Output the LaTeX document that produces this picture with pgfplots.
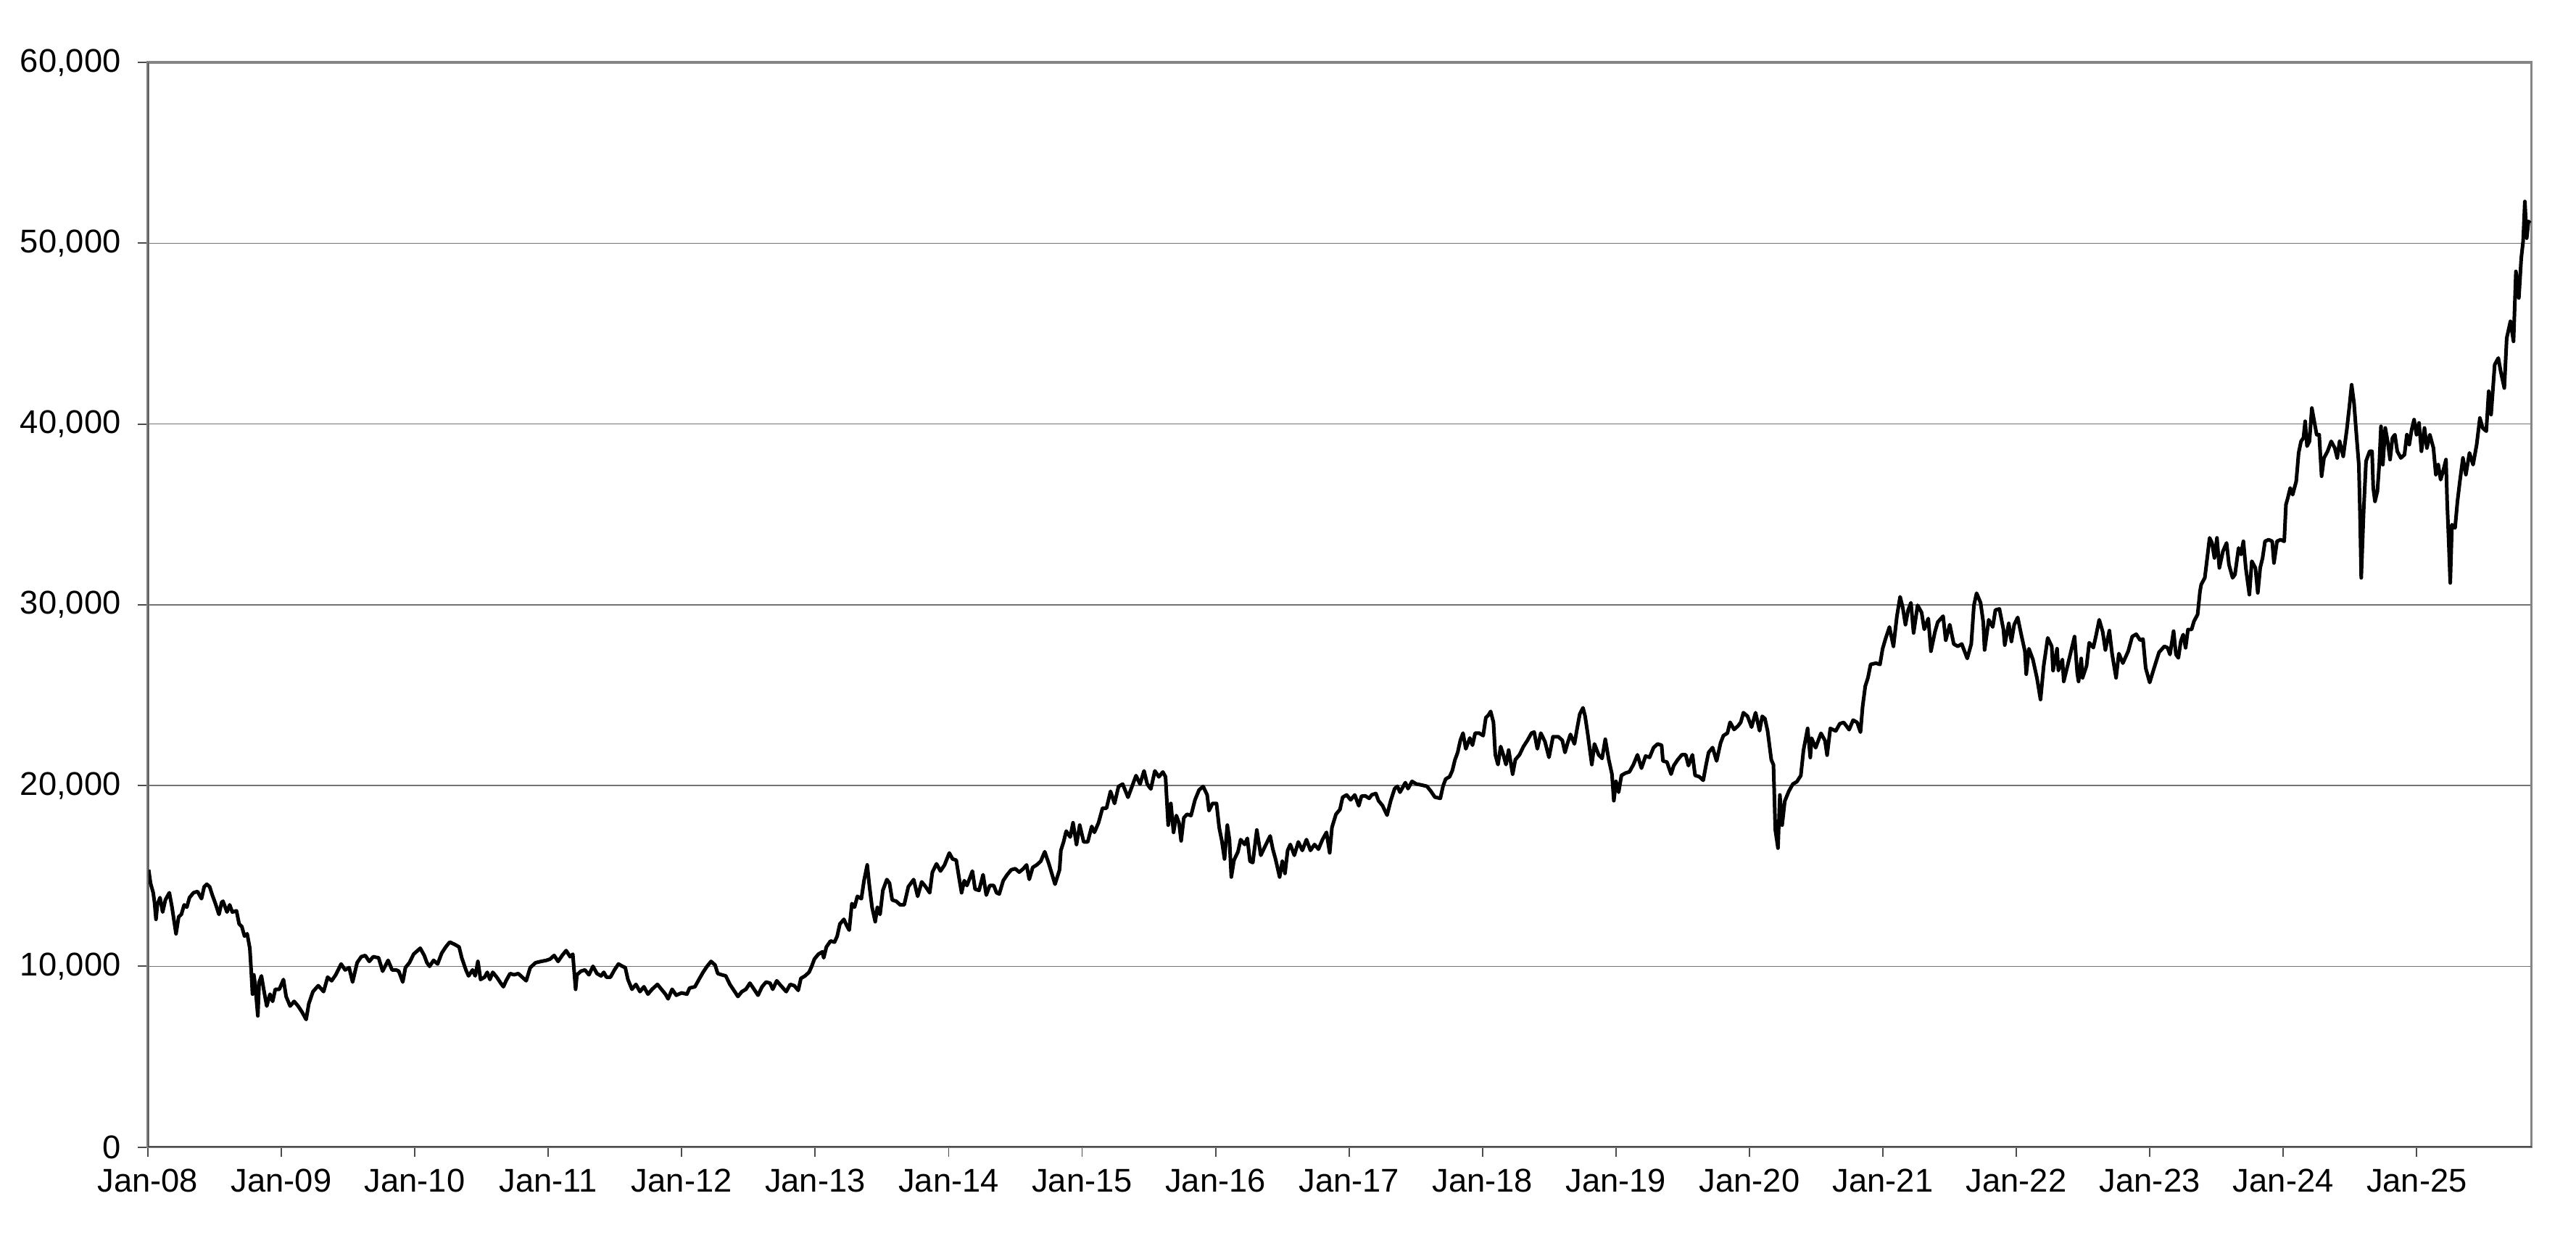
\documentclass[border=0pt]{standalone}
\usepackage{fontspec}
\setmainfont{Liberation Sans}
\usepackage{pgfplots}
\usepackage{pgfplotstable}
\pgfplotsset{compat=1.18}
\pgfplotstableread{
t v
0.006 15340
0.020 14600
0.040 14070
0.050 13540
0.061 12600
0.071 13400
0.091 13800
0.111 13000
0.131 13670
0.161 14070
0.181 13270
0.211 11800
0.231 12740
0.251 12870
0.272 13400
0.292 13270
0.312 13800
0.342 14070
0.372 14140
0.402 13740
0.422 14400
0.442 14540
0.463 14400
0.483 13940
0.503 13540
0.533 12870
0.553 13540
0.563 13600
0.593 13000
0.613 13400
0.633 13000
0.664 13070
0.684 12340
0.704 12200
0.724 11670
0.744 11800
0.764 11000
0.774 9800
0.784 8460
0.794 9530
0.804 9000
0.824 7260
0.834 9130
0.851 9470
0.871 8600
0.891 7800
0.915 8460
0.935 8060
0.955 8730
0.985 8730
1.016 9270
1.036 8330
1.066 7800
1.096 8060
1.126 7800
1.156 7460
1.186 7060
1.206 7930
1.237 8600
1.277 8930
1.317 8600
1.347 9400
1.377 9200
1.408 9530
1.448 10130
1.478 9800
1.508 9930
1.534 9130
1.568 10200
1.599 10530
1.629 10600
1.659 10270
1.689 10530
1.729 10470
1.759 9730
1.800 10330
1.830 9800
1.860 9800
1.880 9730
1.910 9130
1.930 9930
1.960 10200
1.991 10670
2.021 10870
2.041 11000
2.071 10600
2.091 10200
2.111 10000
2.141 10330
2.171 10130
2.202 10730
2.232 11070
2.262 11340
2.302 11200
2.332 11070
2.352 10470
2.383 9800
2.403 9470
2.433 9800
2.453 9470
2.473 10270
2.493 9270
2.523 9400
2.543 9670
2.563 9270
2.584 9670
2.614 9400
2.644 9070
2.664 8870
2.684 9200
2.714 9600
2.744 9530
2.775 9600
2.805 9400
2.835 9200
2.865 9930
2.905 10200
2.946 10270
2.986 10330
3.014 10400
3.044 10600
3.074 10270
3.104 10600
3.134 10870
3.164 10530
3.184 10670
3.205 8730
3.215 9530
3.245 9730
3.275 9800
3.305 9530
3.335 10000
3.365 9600
3.396 9470
3.416 9670
3.436 9400
3.466 9400
3.496 9800
3.526 10130
3.556 10000
3.577 9930
3.597 9270
3.627 8730
3.657 9000
3.687 8600
3.717 8870
3.747 8460
3.778 8730
3.818 9000
3.848 8730
3.878 8460
3.898 8200
3.928 8730
3.959 8400
3.999 8530
4.039 8460
4.059 8800
4.099 8870
4.129 9270
4.160 9670
4.190 10000
4.220 10270
4.250 10070
4.270 9600
4.300 9530
4.330 9470
4.361 9000
4.391 8670
4.421 8330
4.451 8600
4.481 8730
4.511 9070
4.542 8730
4.572 8400
4.602 8870
4.632 9130
4.662 9070
4.682 8730
4.712 9200
4.743 8930
4.783 8600
4.813 9000
4.843 8930
4.873 8670
4.893 9330
4.924 9470
4.954 9670
4.974 10000
4.994 10400
5.024 10670
5.054 10800
5.064 10470
5.084 11070
5.115 11400
5.145 11340
5.165 11670
5.185 12340
5.215 12600
5.235 12270
5.255 12000
5.275 13470
5.295 13270
5.316 13870
5.346 13740
5.366 14740
5.390 15610
5.406 14470
5.426 13270
5.450 12470
5.466 13270
5.486 12870
5.507 14200
5.537 14800
5.557 14600
5.577 13670
5.607 13600
5.637 13400
5.667 13400
5.698 14400
5.738 14800
5.768 13870
5.798 14670
5.828 14400
5.858 14070
5.878 15200
5.909 15670
5.939 15270
5.969 15600
6.005 16270
6.029 15940
6.057 15870
6.077 14940
6.097 14070
6.117 14740
6.137 14470
6.158 14870
6.178 15270
6.198 14270
6.228 14200
6.258 15070
6.282 13940
6.308 14470
6.338 14470
6.359 14070
6.379 14000
6.409 14740
6.439 15070
6.469 15340
6.499 15400
6.529 15210
6.560 15400
6.584 15610
6.604 14810
6.630 15470
6.660 15610
6.690 15810
6.720 16340
6.751 15670
6.797 14540
6.831 15340
6.841 16410
6.861 16880
6.881 17480
6.911 17150
6.932 17940
6.958 16740
6.982 17810
7.012 16880
7.042 16880
7.072 17740
7.092 17410
7.123 17940
7.153 18750
7.183 18750
7.213 19680
7.243 19010
7.273 19950
7.304 20080
7.344 19350
7.374 19950
7.404 20550
7.434 20080
7.464 20810
7.488 20080
7.515 19810
7.545 20810
7.575 20480
7.605 20750
7.625 20480
7.645 17810
7.665 19010
7.685 17410
7.706 18340
7.726 17940
7.742 16940
7.762 18210
7.786 18410
7.816 18340
7.846 19210
7.876 19750
7.907 19950
7.937 19480
7.951 18610
7.977 19010
8.007 19010
8.027 17680
8.047 16940
8.067 15940
8.088 17810
8.104 17010
8.118 14940
8.138 15870
8.168 16340
8.188 17010
8.218 16740
8.238 17080
8.258 15810
8.279 15740
8.309 17540
8.339 16140
8.369 16610
8.409 17210
8.429 16480
8.449 15940
8.480 14940
8.500 15810
8.520 15140
8.540 16410
8.560 16740
8.590 16140
8.620 16880
8.650 16410
8.681 17010
8.711 16410
8.741 16740
8.771 16480
8.801 17010
8.831 17410
8.855 16280
8.872 17680
8.902 18410
8.932 18680
8.952 19350
8.982 19480
9.012 19210
9.043 19480
9.073 18880
9.093 19410
9.121 19430
9.151 19290
9.171 19490
9.201 19560
9.221 19160
9.251 18890
9.285 18360
9.312 19160
9.342 19830
9.362 19960
9.382 19630
9.422 20160
9.442 19830
9.472 20230
9.503 20090
9.543 20030
9.583 19960
9.613 19690
9.643 19360
9.684 19290
9.704 19960
9.724 20360
9.754 20490
9.774 20830
9.794 21430
9.814 21830
9.834 22500
9.854 22900
9.875 22030
9.905 22630
9.925 22230
9.945 22900
9.975 22900
10.005 22760
10.025 23760
10.045 23900
10.061 24100
10.082 23500
10.096 21700
10.116 21160
10.136 22160
10.156 21700
10.176 21160
10.196 21960
10.226 20630
10.246 21430
10.277 21700
10.307 22160
10.337 22500
10.367 22900
10.387 22960
10.411 22030
10.437 22900
10.468 22430
10.498 21560
10.528 22700
10.568 22700
10.598 22500
10.618 21830
10.638 22360
10.659 22830
10.689 22300
10.709 23160
10.729 23960
10.753 24300
10.769 23830
10.789 22830
10.819 21160
10.839 22300
10.870 21700
10.896 21500
10.920 22560
10.946 21430
10.970 20630
10.984 19160
11.000 20230
11.020 19630
11.041 20560
11.071 20690
11.101 20760
11.131 21160
11.161 21700
11.191 20960
11.222 21630
11.252 21560
11.282 22100
11.312 22300
11.342 22230
11.352 21360
11.382 21300
11.413 20630
11.433 21100
11.463 21430
11.493 21700
11.523 21700
11.543 21100
11.573 21700
11.593 20560
11.624 20490
11.654 20290
11.674 21100
11.694 21830
11.724 22100
11.754 21360
11.784 22360
11.805 22760
11.835 22900
11.855 23500
11.885 23100
11.915 23300
11.935 23500
11.955 24030
11.986 23830
12.016 23230
12.046 24030
12.076 23030
12.096 23830
12.116 23700
12.136 23030
12.164 21420
12.180 21150
12.194 17540
12.214 16540
12.228 19480
12.245 17810
12.265 19140
12.295 19680
12.325 20080
12.355 20210
12.385 20550
12.405 21950
12.436 23160
12.456 21550
12.466 22620
12.496 22090
12.536 22890
12.566 22490
12.582 21680
12.606 23160
12.647 23020
12.677 23420
12.707 23490
12.747 23090
12.777 23620
12.807 23490
12.832 22950
12.848 24360
12.868 25500
12.888 25960
12.908 26700
12.948 26770
12.978 26700
12.998 27570
13.019 28100
13.049 28770
13.079 27700
13.105 29370
13.129 30440
13.149 29840
13.169 28900
13.189 29700
13.210 30110
13.230 28440
13.260 29970
13.290 29570
13.310 28640
13.340 29240
13.360 27430
13.390 28500
13.411 29040
13.451 29370
13.471 28040
13.501 28900
13.531 27830
13.561 27700
13.591 27830
13.632 27030
13.662 27830
13.682 29970
13.702 30640
13.732 30110
13.752 29040
13.762 27500
13.793 29170
13.823 28770
13.843 29710
13.873 29770
13.903 28640
13.913 27770
13.943 28970
13.963 27970
13.984 28900
14.010 29300
14.034 28440
14.064 27430
14.074 26160
14.094 27570
14.124 26970
14.154 25960
14.181 24760
14.205 26630
14.235 28170
14.265 27700
14.275 26360
14.305 27570
14.315 26360
14.345 26970
14.355 25760
14.386 26700
14.416 27630
14.436 28240
14.456 26230
14.466 25760
14.486 27030
14.496 25960
14.526 26630
14.546 27900
14.577 27630
14.597 28300
14.621 29170
14.647 28500
14.667 27500
14.697 28570
14.717 27300
14.747 25960
14.768 27300
14.798 26770
14.838 27430
14.868 28240
14.898 28370
14.928 28040
14.949 28100
14.969 26500
14.999 25700
15.029 26430
15.049 26900
15.069 27370
15.109 27700
15.133 27620
15.151 27250
15.178 28540
15.196 27250
15.214 27060
15.232 27980
15.250 28350
15.268 27620
15.286 28630
15.313 28630
15.331 29090
15.358 29460
15.376 30750
15.385 31120
15.412 31490
15.430 32590
15.448 33700
15.466 33420
15.484 32590
15.503 33700
15.521 32040
15.548 32960
15.575 33420
15.593 32220
15.620 31490
15.638 31670
15.665 33140
15.683 32780
15.701 33510
15.719 32040
15.746 30560
15.764 32410
15.791 32040
15.809 30660
15.827 32040
15.845 32590
15.863 33510
15.890 33600
15.917 33510
15.930 32310
15.953 33510
15.980 33600
16.007 33510
16.020 35540
16.034 35910
16.052 36460
16.070 36090
16.097 36830
16.115 38400
16.133 39040
16.151 39230
16.164 40150
16.178 38770
16.196 39040
16.214 40880
16.232 40150
16.250 39410
16.269 39410
16.287 37110
16.305 38120
16.332 38490
16.359 39040
16.386 38670
16.404 38120
16.422 39040
16.449 38210
16.476 39690
16.494 40880
16.512 42170
16.530 41160
16.548 39410
16.566 37750
16.575 34990
16.584 31490
16.602 35170
16.620 37940
16.647 38490
16.665 38490
16.674 36460
16.687 35720
16.705 36280
16.719 37750
16.732 39870
16.746 37750
16.764 39780
16.782 39040
16.800 38030
16.818 39230
16.836 39410
16.854 38490
16.881 38120
16.908 38300
16.926 39410
16.944 38860
16.962 39690
16.980 40240
16.998 39410
17.017 40060
17.035 38490
17.058 39780
17.076 38670
17.098 39410
17.125 38670
17.143 37200
17.161 37750
17.179 36920
17.197 37380
17.219 38030
17.228 35630
17.238 33790
17.251 31210
17.264 34430
17.287 34250
17.305 35720
17.323 36830
17.346 38120
17.368 37200
17.395 38400
17.422 37750
17.449 38860
17.473 40330
17.494 39780
17.521 39600
17.539 41810
17.557 40520
17.584 43280
17.611 43650
17.629 42910
17.656 41990
17.674 44750
17.702 45680
17.725 44570
17.743 48440
17.765 46970
17.783 49180
17.797 50100
17.810 52310
17.824 50280
17.837 51210
17.849 51110
}\nikkei
\begin{document}
\begin{tikzpicture}
\begin{axis}[
  scale only axis,
  width=1451pt, height=660pt,
  xmin=0, xmax=17.861, ymin=0, ymax=60000,
  xtick={0,1,...,17},
  xticklabels={Jan-08,Jan-09,Jan-10,Jan-11,Jan-12,Jan-13,Jan-14,Jan-15,Jan-16,Jan-17,Jan-18,Jan-19,Jan-20,Jan-21,Jan-22,Jan-23,Jan-24,Jan-25},
  ytick={0,10000,20000,30000,40000,50000,60000},
  scaled y ticks=false,
  /pgf/number format/assume math mode=true,
  /pgf/number format/1000 sep={,},
  ticklabel style={font=\fontsize{20}{24}\selectfont, text=black},
  yticklabel style={xshift=-7pt},
  xticklabel style={yshift=-4pt},
  ymajorgrids,
  major grid style={black!55, line width=0.6pt},
  axis line style={draw=black!48, line width=1.4pt},
  tick align=outside,
  xtick pos=bottom, ytick pos=left,
  major tick length=6pt,
  tick style={black!70, line width=0.8pt},
]
\addplot[black, line width=2.2pt, line join=round, mark=none] table[x=t,y=v]{\nikkei};
\draw[black!70, line width=1pt] (rel axis cs:0,1) -- (rel axis cs:0,0) -- (rel axis cs:1,0);
\end{axis}
\path ([xshift=-90pt,yshift=-60pt]current axis.south west) rectangle ([xshift=27pt,yshift=38pt]current axis.north east);
\end{tikzpicture}
\end{document}
